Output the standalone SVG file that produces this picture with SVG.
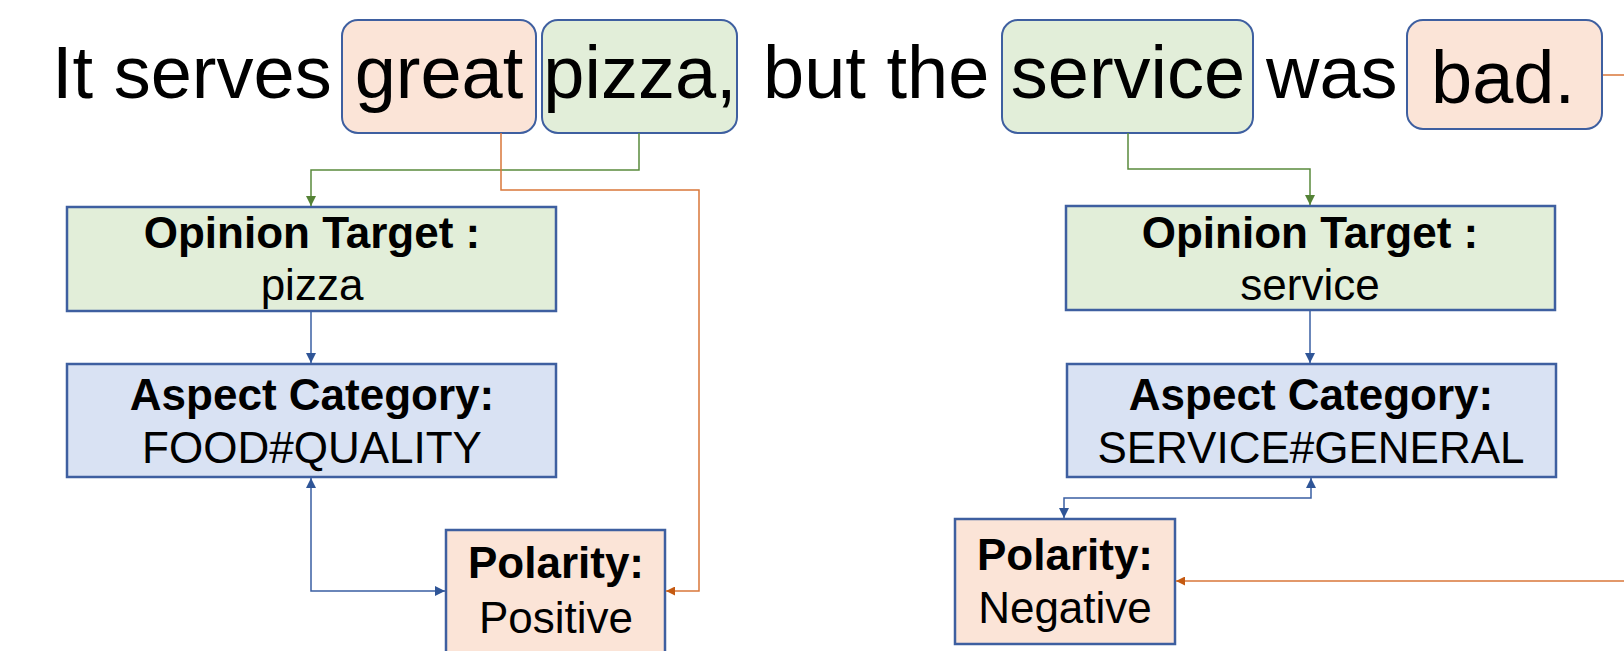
<svg xmlns="http://www.w3.org/2000/svg" width="1624" height="651" viewBox="0 0 1624 651">
  <style>
    .sent { font-family: "Liberation Sans", Arial, sans-serif; font-size: 74px; fill: #000; }
    .lbl { font-family: "Liberation Sans", Arial, sans-serif; font-size: 44px; fill: #000; text-anchor: middle; }
    .b { font-weight: bold; }
    .word { stroke: #3E5FA0; stroke-width: 2; }
    .box { stroke: #3E5FA0; stroke-width: 2.5; }
    .green { fill: #E2EED9; }
    .orange { fill: #FBE4D7; }
    .blue { fill: #D9E2F3; }
    .c { fill: none; stroke-width: 1.5; }
    .cg { stroke: #5A8A3C; }
    .co { stroke: #D9773A; }
    .cb { stroke: #3A5FA3; }
  </style>
  <defs>
    <marker id="ag" viewBox="0 0 10 10" refX="10" refY="5" markerWidth="10" markerHeight="11" markerUnits="userSpaceOnUse" orient="auto">
      <path d="M0,0 L10,5 L0,10 Z" fill="#548235"/>
    </marker>
    <marker id="ao" viewBox="0 0 10 10" refX="10" refY="5" markerWidth="9" markerHeight="9" markerUnits="userSpaceOnUse" orient="auto">
      <path d="M0,0 L10,5 L0,10 Z" fill="#C55A11"/>
    </marker>
    <marker id="ab" viewBox="0 0 10 10" refX="10" refY="5" markerWidth="10" markerHeight="11" markerUnits="userSpaceOnUse" orient="auto">
      <path d="M0,0 L10,5 L0,10 Z" fill="#2F5597"/>
    </marker>
    <marker id="abs" viewBox="0 0 10 10" refX="10" refY="5" markerWidth="10" markerHeight="11" markerUnits="userSpaceOnUse" orient="auto-start-reverse">
      <path d="M0,0 L10,5 L0,10 Z" fill="#2F5597"/>
    </marker>
  </defs>

  <!-- sentence with highlighted words -->
  <g id="sentence">
    <rect id="w-great" class="word orange" x="342" y="20" width="194" height="113" rx="16"/>
    <rect id="w-pizza" class="word green" x="542" y="20" width="195" height="113" rx="16"/>
    <rect id="w-service" class="word green" x="1002" y="20" width="251" height="113" rx="16"/>
    <rect id="w-bad" class="word orange" x="1407" y="20" width="195" height="109" rx="16"/>
    <text class="sent" x="52" y="98">It serves</text>
    <text class="sent" x="439" y="98" text-anchor="middle">great</text>
    <text class="sent" x="640" y="98" text-anchor="middle">pizza,</text>
    <text class="sent" x="763" y="98">but the</text>
    <text class="sent" x="1128" y="98" text-anchor="middle">service</text>
    <text class="sent" x="1266" y="98">was</text>
    <text class="sent" x="1503" y="103" text-anchor="middle">bad.</text>
  </g>

  <!-- left tuple -->
  <g id="target-pizza">
    <rect class="box green" x="67" y="207" width="489" height="104"/>
    <text class="lbl b" x="312" y="248">Opinion Target :</text>
    <text class="lbl" x="312" y="300">pizza</text>
  </g>
  <g id="aspect-food">
    <rect class="box blue" x="67" y="364" width="489" height="113"/>
    <text class="lbl b" x="312" y="410">Aspect Category:</text>
    <text class="lbl" x="312" y="463">FOOD#QUALITY</text>
  </g>
  <g id="polarity-positive">
    <rect class="box orange" x="446" y="530" width="219" height="130"/>
    <text class="lbl b" x="556" y="578">Polarity:</text>
    <text class="lbl" x="556" y="633">Positive</text>
  </g>

  <!-- right tuple -->
  <g id="target-service">
    <rect class="box green" x="1066" y="206" width="489" height="104"/>
    <text class="lbl b" x="1310" y="248">Opinion Target :</text>
    <text class="lbl" x="1310" y="300">service</text>
  </g>
  <g id="aspect-service">
    <rect class="box blue" x="1067" y="364" width="489" height="113"/>
    <text class="lbl b" x="1311" y="410">Aspect Category:</text>
    <text class="lbl" x="1311" y="463">SERVICE#GENERAL</text>
  </g>
  <g id="polarity-negative">
    <rect class="box orange" x="955" y="519" width="220" height="125"/>
    <text class="lbl b" x="1065" y="570">Polarity:</text>
    <text class="lbl" x="1065" y="623">Negative</text>
  </g>

  <!-- connectors -->
  <g id="connectors">
    <path class="c cg" d="M639,133 V170 H311 V206" marker-end="url(#ag)"/>
    <path class="c co" d="M501,133 V190 H699 V591 H666" marker-end="url(#ao)"/>
    <path class="c cb" d="M311,312 V363" marker-end="url(#ab)"/>
    <path class="c cb" d="M311,478 V591 H445" marker-start="url(#abs)" marker-end="url(#ab)"/>

    <path class="c cg" d="M1128,133 V169 H1310 V205" marker-end="url(#ag)"/>
    <path class="c co" d="M1603,75 H1640 V581 H1176" marker-end="url(#ao)"/>
    <path class="c cb" d="M1310,311 V363" marker-end="url(#ab)"/>
    <path class="c cb" d="M1311,478 V498 H1064 V518" marker-start="url(#abs)" marker-end="url(#ab)"/>
  </g>
</svg>
